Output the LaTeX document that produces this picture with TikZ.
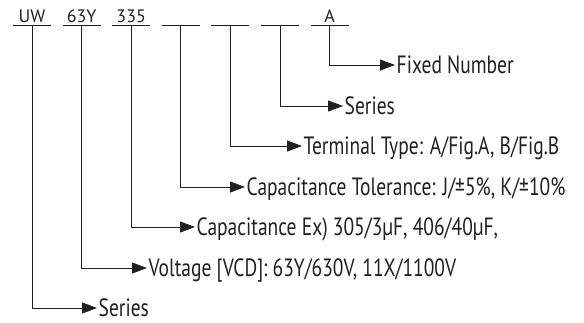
\documentclass[tikz,border=0pt]{standalone}
\usepackage{fontspec}
\setmainfont{PT Sans}
\newfontfamily\condfont[FakeStretch=0.78]{PT Sans}
\usepackage{tikz}
\usetikzlibrary{arrows.meta}
\definecolor{inkgray}{HTML}{231F20}

\begin{document}
\begin{tikzpicture}[x=1pt, y=-1pt,
    codeline/.style={line width=0.9pt, inkgray},
    codelabel/.style={font=\fontsize{18}{18}\selectfont, text=inkgray, anchor=base, inner sep=0pt},
    leader/.style={line width=0.9pt, inkgray, -{Triangle[length=15pt, width=11pt]}},
    meaning/.style={font=\condfont\fontsize{25}{25}\selectfont, text=inkgray, anchor=west,
                    inner sep=1.5pt, text height=16pt, text depth=0pt}]
    \useasboundingbox (0,0) rectangle (584,322);

    % Code fields
    \foreach \i/\lbl in {0/UW, 1/63Y, 2/335, 3/, 4/, 5/, 6/A} {
        \coordinate (f\i) at ({32+49.6*\i},25);
        \draw[codeline] ([xshift=-19pt]f\i) -- ([xshift=19pt]f\i);
        \node[codelabel] (l\i) at ([yshift=3pt]f\i) {\lbl};
    }

    % Meanings
    \node[meaning] (m6) at (395,65)  {Fixed Number};
    \node[meaning] (m5) at (343,106) {Series};
    \node[meaning] (m4) at (302,146) {Terminal Type: A/Fig.A, B/Fig.B};
    \node[meaning] (m3) at (245,187) {Capacitance Tolerance: J/±5\%, K/±10\%};
    \node[meaning] (m2) at (195,227) {Capacitance Ex) 305/3µF, 406/40µF,};
    \node[meaning] (m1) at (147,268) {Voltage [VCD]: 63Y/630V, 11X/1100V};
    \node[meaning] (m0) at (97,308)  {Series};

    % Leaders
    \foreach \i in {0,...,6} {
        \draw[leader] (f\i) |- (m\i.west);
    }
\end{tikzpicture}
\end{document}
